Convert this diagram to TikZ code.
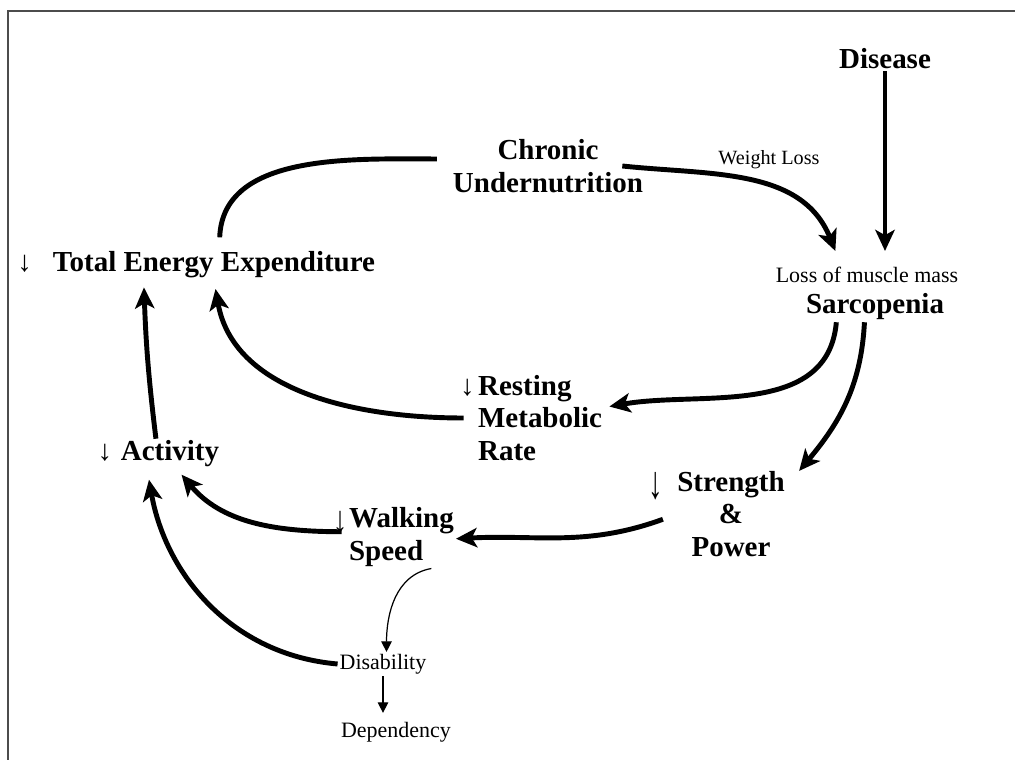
\documentclass[tikz,border=0pt]{standalone}
\usepackage{fontspec}
\setmainfont{Liberation Serif}
\usepackage{graphicx}
\usetikzlibrary{arrows.meta}

\newcommand{\downmark}{{\mdseries ↓}}

\begin{document}
\begin{tikzpicture}[x=0.02cm,y=-0.02cm,
   lbl/.style={font=\fontsize{16.5}{18.5}\selectfont\bfseries,align=center,inner sep=1pt},
   note/.style={font=\fontsize{12.5}{15}\selectfont,inner sep=1pt},
   flow/.style={line width=2.8pt,-{Stealth[length=12pt,width=11pt,inset=3pt]}},
   link/.style={line width=2.8pt},
   faint/.style={line width=0.7pt,-{Triangle[length=6pt,width=6pt]}}]
  \useasboundingbox (0,0) rectangle (1015,760);
  \draw[line width=1pt,black!70] (8,760) -- (8,11) -- (1015,11);

  \node[lbl] (dis) at (885,59) {Disease};
  \node[lbl] (chron) at (548,166) {Chronic\\Undernutrition};
  \node[note,font=\fontsize{11.5}{14}\selectfont] (wl) at (769,160) {Weight Loss};
  \node[note] (loss) at (867,275) {Loss of muscle mass};
  \node[lbl] (sarc) at (875,307) {Sarcopenia};
  \node[lbl] (tee) at (214,265) {\llap{\downmark\hspace{12pt}}Total Energy Expenditure};
  \node[lbl,align=left,anchor=west] (rmr) at (476,418) {\llap{\downmark\hspace{2pt}}Resting\\Metabolic\\Rate};
  \node[lbl] (act) at (170,454) {\llap{\downmark\hspace{5pt}}Activity};
  \node[lbl] (str) at (731,514) {\llap{\raisebox{-4pt}{\scalebox{1}[1.6]{\downmark}}\hspace{8pt}}Strength\\\&\\Power};
  \node[lbl,align=left,anchor=west] (walk) at (347,537) {\llap{\raisebox{-3pt}{\scalebox{1}[1.3]{\downmark}}\hspace{1pt}}Walking\\Speed};
  \node[note] (disab) at (383,664) {Disability};
  \node[note] (dep) at (396,732) {Dependency};

  % outer loop
  \draw[flow,shorten >=8pt] (dis.south) -- (dis.south |- loss.north);
  \draw[flow] ([xshift=-13pt]chron.east) to[out=-6,in=112] ([xshift=-18pt,yshift=8pt]loss.north);
  \draw[link,shorten <=7pt,shorten >=8pt] ([xshift=3pt]tee.north) to[out=88,in=180] ([yshift=4pt]chron.west);
  \draw[flow,shorten >=3pt] ([xshift=-22pt]sarc.south) to[out=-95,in=10] ([yshift=6pt]rmr.east);
  \draw[flow,shorten >=5pt] ([xshift=-7pt]rmr.west) to[out=180,in=-80] (tee.south);
  \draw[flow,shorten >=4pt] ([xshift=-8pt]act.north) to[out=97,in=-88] ([xshift=-40pt]tee.south);

  % lower chain
  \draw[flow] ([xshift=-6pt]sarc.south) to[out=-93,in=50] ([xshift=7pt,yshift=-1pt]str.north east);
  \draw[flow] ([xshift=-7pt,yshift=-3pt]str.west) to[out=200,in=3] ([yshift=-1pt]walk.east);
  \draw[flow,shorten >=4pt] ([xshift=-3pt,yshift=3pt]walk.west) to[out=180,in=-50] ([xshift=4pt]act.south);
  \draw[flow,shorten >=6pt] (disab.west) to[out=175,in=-80] ([xshift=-13pt]act.south);
  \draw[faint] ([xshift=-14pt]walk.south east) to[out=190,in=90] ([xshift=2pt]disab.north);
  \draw[faint,shorten >=4pt] (disab.south) -- (disab.south |- dep.north);
\end{tikzpicture}
\end{document}
